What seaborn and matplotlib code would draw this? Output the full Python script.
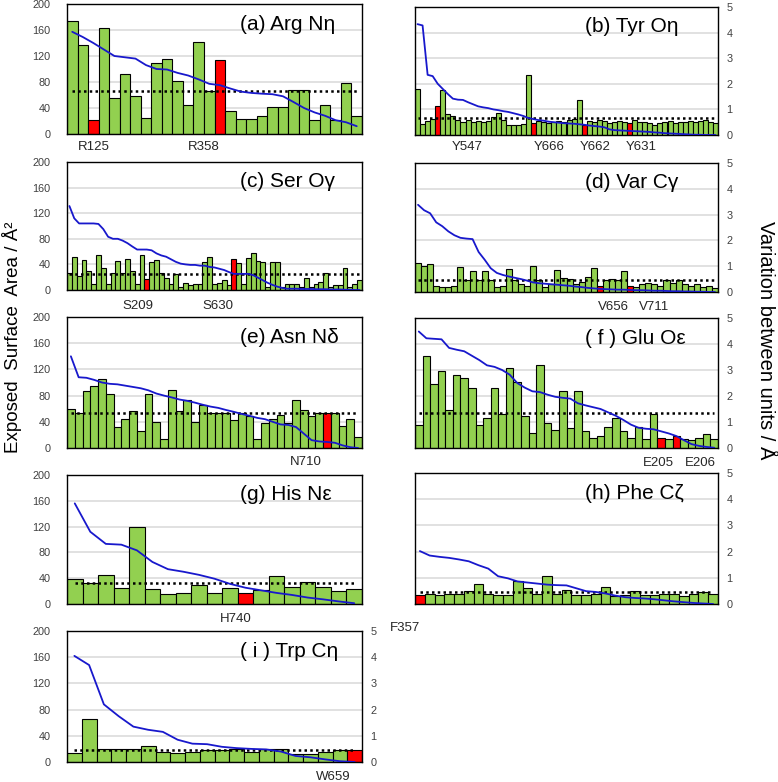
import numpy as np
import pandas as pd
import matplotlib
matplotlib.use("Agg")
import matplotlib.pyplot as plt
import seaborn as sns

sns.set_theme(style="white")
plt.rcParams['font.family'] = ['Liberation Sans', 'DejaVu Sans']

# ---------------- data (exposed surface area, Å^2; variation between units, Å) ----------------
arg_area = [174, 137, 22, 163, 56, 92, 59, 24, 110, 116, 82, 45, 141, 66, 114, 36, 23, 23, 27, 41,
            41, 67, 67, 21, 44, 22, 79, 27]
arg_var = [3.93, 3.73, 3.5, 3.25, 3.0, 2.95, 2.9, 2.65, 2.5, 2.48, 2.35, 2.25, 2.1, 1.93, 1.88, 1.75,
           1.63, 1.58, 1.55, 1.53, 1.45, 1.23, 1.0, 0.83, 0.7, 0.53, 0.45, 0.3]
arg_red = [2, 14]
arg_mean = 66

tyr_area = [72, 17, 22, 25, 45, 70, 33, 29, 24, 20, 24, 20, 22, 20, 22, 28, 35, 24, 16, 16,
            16, 17, 94, 18, 22, 20, 18, 20, 22, 20, 24, 25, 54, 16, 22, 20, 24, 22, 18, 20,
            22, 20, 18, 24, 20, 20, 18, 16, 18, 20, 22, 18, 20, 20, 22, 20, 22, 24, 20, 18]
tyr_var = [4.33, 4.28, 2.35, 2.3, 2.0, 1.8, 1.6, 1.42, 1.38, 1.37, 1.28, 1.2, 1.12, 1.08, 1.05, 1.0,
           0.97, 0.93, 0.9, 0.85, 0.8, 0.74, 0.66, 0.62, 0.58, 0.56, 0.52, 0.5, 0.48, 0.46, 0.45,
           0.44, 0.42, 0.4, 0.37, 0.35, 0.33, 0.3, 0.22, 0.19, 0.18, 0.17, 0.16, 0.15, 0.14, 0.13,
           0.12, 0.1, 0.09, 0.07, 0.06, 0.05, 0.04, 0.03, 0.02, 0.01, 0.01, 0.0, 0.0, 0.0]
tyr_red = [4, 23, 33, 42]
tyr_mean = 26

ser_area = [26, 51, 22, 47, 30, 10, 55, 34, 10, 26, 46, 26, 49, 30, 10, 55, 17, 44, 47, 26,
            18, 10, 25, 5, 11, 8, 10, 10, 44, 51, 10, 11, 16, 8, 48, 42, 9, 50, 58, 46,
            44, 5, 44, 44, 5, 10, 10, 10, 5, 19, 5, 9, 13, 26, 5, 8, 8, 34, 5, 9, 15]
ser_var = [3.28, 2.8, 2.6, 2.6, 2.6, 2.6, 2.58, 2.38, 2.08, 2.0, 2.0, 1.93, 1.83, 1.7, 1.58, 1.58,
           1.58, 1.55, 1.43, 1.35, 1.3, 1.2, 1.1, 1.03, 1.0, 0.98, 0.98, 0.95, 0.95, 0.9, 0.88,
           0.83, 0.78, 0.7, 0.63, 0.63, 0.63, 0.63, 0.58, 0.48, 0.38, 0.28, 0.2, 0.13, 0.08, 0.05,
           0.05, 0.05, 0.04, 0.04, 0.04, 0.03, 0.03, 0.03, 0.02, 0.02, 0.02, 0.01, 0.01, 0.0, 0.0]
ser_red = [16, 34]
ser_mean = 25

val_area = [45, 40, 44, 10, 8, 8, 10, 38, 18, 33, 18, 32, 18, 8, 10, 36, 18, 12, 10, 41,
            18, 8, 12, 34, 22, 20, 12, 16, 24, 37, 9, 18, 20, 18, 32, 9, 8, 12, 14, 12,
            10, 18, 14, 18, 12, 10, 12, 8, 10, 6]
val_var = [3.38, 3.17, 3.05, 2.7, 2.55, 2.35, 2.2, 2.1, 2.07, 2.05, 1.55, 1.25, 0.92, 0.74, 0.66,
           0.6, 0.55, 0.5, 0.44, 0.37, 0.34, 0.32, 0.3, 0.28, 0.26, 0.24, 0.21, 0.19, 0.16, 0.14,
           0.12, 0.11, 0.1, 0.09, 0.09, 0.08, 0.07, 0.07, 0.06, 0.05, 0.05, 0.04, 0.03, 0.03,
           0.02, 0.02, 0.01, 0.01, 0.0, 0.0]
val_red = [30, 35]
val_mean = 19

asn_area = [59, 53, 87, 95, 105, 82, 32, 45, 56, 26, 83, 40, 14, 89, 57, 73, 40, 65, 54, 54,
            54, 43, 54, 49, 14, 38, 45, 50, 38, 74, 58, 49, 53, 54, 54, 34, 45, 17]
asn_var = [3.5, 2.7, 2.68, 2.6, 2.5, 2.45, 2.43, 2.38, 2.33, 2.28, 2.2, 2.08, 2.0, 1.93, 1.85, 1.8,
           1.73, 1.65, 1.58, 1.53, 1.45, 1.38, 1.3, 1.23, 1.15, 1.1, 1.0, 0.9, 0.88, 0.8, 0.55,
           0.3, 0.25, 0.23, 0.2, 0.1, 0.03, 0.0]
asn_red = [33]
asn_mean = 54

glu_area = [36, 141, 98, 118, 58, 112, 108, 93, 35, 46, 93, 53, 123, 102, 50, 23, 127, 38, 27, 88,
            31, 88, 26, 16, 18, 32, 46, 26, 16, 32, 14, 53, 16, 14, 18, 14, 13, 16, 21, 14]
glu_var = [4.48, 4.22, 4.2, 4.18, 3.85, 3.78, 3.72, 3.55, 3.38, 3.18, 3.12, 3.0, 2.82, 2.5, 2.32,
           2.18, 2.15, 2.05, 1.97, 1.93, 1.9, 1.72, 1.64, 1.57, 1.5, 1.37, 1.24, 1.08, 0.9, 0.78,
           0.74, 0.72, 0.64, 0.56, 0.46, 0.3, 0.15, 0.08, 0.04, 0.01]
glu_red = [32, 34]
glu_mean = 54

his_area = [38, 32, 45, 25, 119, 24, 15, 17, 29, 17, 25, 17, 21, 43, 26, 34, 27, 20, 24]
his_var = [3.9, 2.8, 2.33, 2.3, 2.08, 1.63, 1.35, 1.25, 1.13, 0.98, 0.78, 0.63, 0.53, 0.43, 0.35,
           0.25, 0.18, 0.1, 0.03]
his_red = [11]
his_mean = 32

phe_area = [14, 16, 14, 16, 16, 20, 31, 16, 14, 14, 35, 25, 16, 42, 16, 22, 14, 14, 16, 26,
            12, 14, 20, 14, 14, 16, 16, 12, 16, 18, 16]
phe_var = [2.02, 1.85, 1.8, 1.76, 1.7, 1.63, 1.48, 1.35, 1.06, 0.98, 0.86, 0.82, 0.78, 0.74, 0.72,
           0.71, 0.6, 0.49, 0.46, 0.4, 0.32, 0.26, 0.23, 0.21, 0.18, 0.14, 0.1, 0.07, 0.04, 0.02, 0.0]
phe_red = [0]
phe_mean = 18

trp_area = [14, 65, 20, 20, 20, 24, 16, 14, 16, 19, 19, 20, 16, 20, 20, 12, 12, 16, 19, 19]
trp_var = [4.05, 3.7, 2.2, 1.75, 1.35, 1.23, 1.15, 0.85, 0.7, 0.68, 0.58, 0.53, 0.5, 0.48, 0.4,
           0.23, 0.18, 0.1, 0.03, 0.0]
trp_red = [19]
trp_mean = 19

titles = ["(a) Arg Nη", "(b) Tyr Oη", "(c) Ser Oγ", "(d) Var Cγ", "(e) Asn Nδ",
          "( f ) Glu Oε", "(g) His Nε", "(h) Phe Cζ", "( i ) Trp Cη"]

residue_labels = [("R125", 94, 147), ("R358", 204, 147),
                  ("Y547", 467, 147), ("Y666", 549, 147), ("Y662", 595, 147), ("Y631", 641, 147),
                  ("S209", 138, 306), ("S630", 218, 306),
                  ("V656", 613, 307), ("V711", 654, 307),
                  ("N710", 306, 462),
                  ("E205", 658, 463), ("E206", 700, 463),
                  ("H740", 236, 619),
                  ("F357", 405, 628),
                  ("W659", 333, 777)]

area_ticks = [0, 40, 80, 120, 160, 200]
var_ticks = [0, 1, 2, 3, 4, 5]

# ---------------- styling ----------------
GREEN = "#92D050"
RED = "#FF0000"
BLUE = "#1818CC"
GRID = "#D9D9D9"
TICKC = "#404040"

W, H = 778, 782
fig = plt.figure(figsize=(W / 100, H / 100), dpi=100)

L = (67, 362)
R = (415, 718)
layout = [
    (arg_area, arg_var, arg_red, arg_mean, L, (4, 134), "left"),
    (tyr_area, tyr_var, tyr_red, tyr_mean, R, (7, 135), "right"),
    (ser_area, ser_var, ser_red, ser_mean, L, (162, 290), "left"),
    (val_area, val_var, val_red, val_mean, R, (163, 292), "right"),
    (asn_area, asn_var, asn_red, asn_mean, L, (317, 448), "left"),
    (glu_area, glu_var, glu_red, glu_mean, R, (318, 448), "right"),
    (his_area, his_var, his_red, his_mean, L, (475, 604), "left"),
    (phe_area, phe_var, phe_red, phe_mean, R, (473, 604), "right"),
    (trp_area, trp_var, trp_red, trp_mean, L, (631, 762), "both"),
]

for (area, var, red, mean, (x0, x1), (y0, y1), side), title in zip(layout, titles):
    ax = fig.add_axes([x0 / W, 1 - y1 / H, (x1 - x0) / W, (y1 - y0) / H])
    n = len(area)
    keys = [f"k{i}" for i in range(n)]
    df = pd.DataFrame({"pos": np.arange(n), "key": keys, "area": area})
    pal = {k: (RED if i in red else GREEN) for i, k in enumerate(keys)}
    sns.barplot(data=df, x="pos", y="area", hue="key", palette=pal, legend=False,
                dodge=False, width=1.0, edgecolor="black", linewidth=0.8,
                saturation=1, ax=ax, errorbar=None)
    ax.set_xlim(-0.5, n - 0.5)
    ax.set_ylim(0, 200)
    ax.set_yticks(area_ticks)
    ax.set_xticks([])
    ax.set_xlabel("")
    ax.set_ylabel("")
    ax.grid(axis="y", color=GRID, lw=1.1)
    ax.grid(axis="x", visible=False)
    ax.set_axisbelow(True)
    ax.hlines(mean, 0, n - 1, colors="black", linestyles=(0, (1, 1.3)), lw=1.8, zorder=5)
    for s in ax.spines.values():
        s.set_color("black")
        s.set_linewidth(1.0)
    ax.tick_params(axis="y", length=0, pad=12, labelsize=7.8, labelcolor=TICKC)
    if side == "right":
        ax.tick_params(axis="y", labelleft=False)

    ax2 = ax.twinx()
    sns.lineplot(x=np.arange(n), y=var, ax=ax2, color=BLUE, lw=1.3, sort=False)
    ax2.set_ylim(0, 5)
    ax2.set_xlim(-0.5, n - 0.5)
    ax2.set_yticks(var_ticks)
    ax2.set_ylabel("")
    ax2.grid(False)
    for s in ax2.spines.values():
        s.set_visible(False)
    ax2.tick_params(axis="y", length=0, pad=6, labelsize=7.8, labelcolor=TICKC)
    if side == "left":
        ax2.tick_params(axis="y", labelright=False)

    tx = 0.586 if (x0, x1) == L else 0.561
    ax.text(tx, 0.845, title, transform=ax.transAxes, fontsize=15, ha="left", va="center",
            color="black", zorder=6)

for lab, x, y in residue_labels:
    fig.text(x / W, 1 - y / H, lab, ha="center", va="center", fontsize=9.5, color="#262626")

fig.text(12 / W, 1 - 337 / H, "Exposed  Surface  Area / Å²", rotation=90, ha="center",
         va="center", fontsize=13.5, color="black")
fig.text(765 / W, 1 - 340 / H, "Variation between units / Å", rotation=270, ha="center",
         va="center", fontsize=14.5, color="black")

fig.savefig("out.png", dpi=100)
